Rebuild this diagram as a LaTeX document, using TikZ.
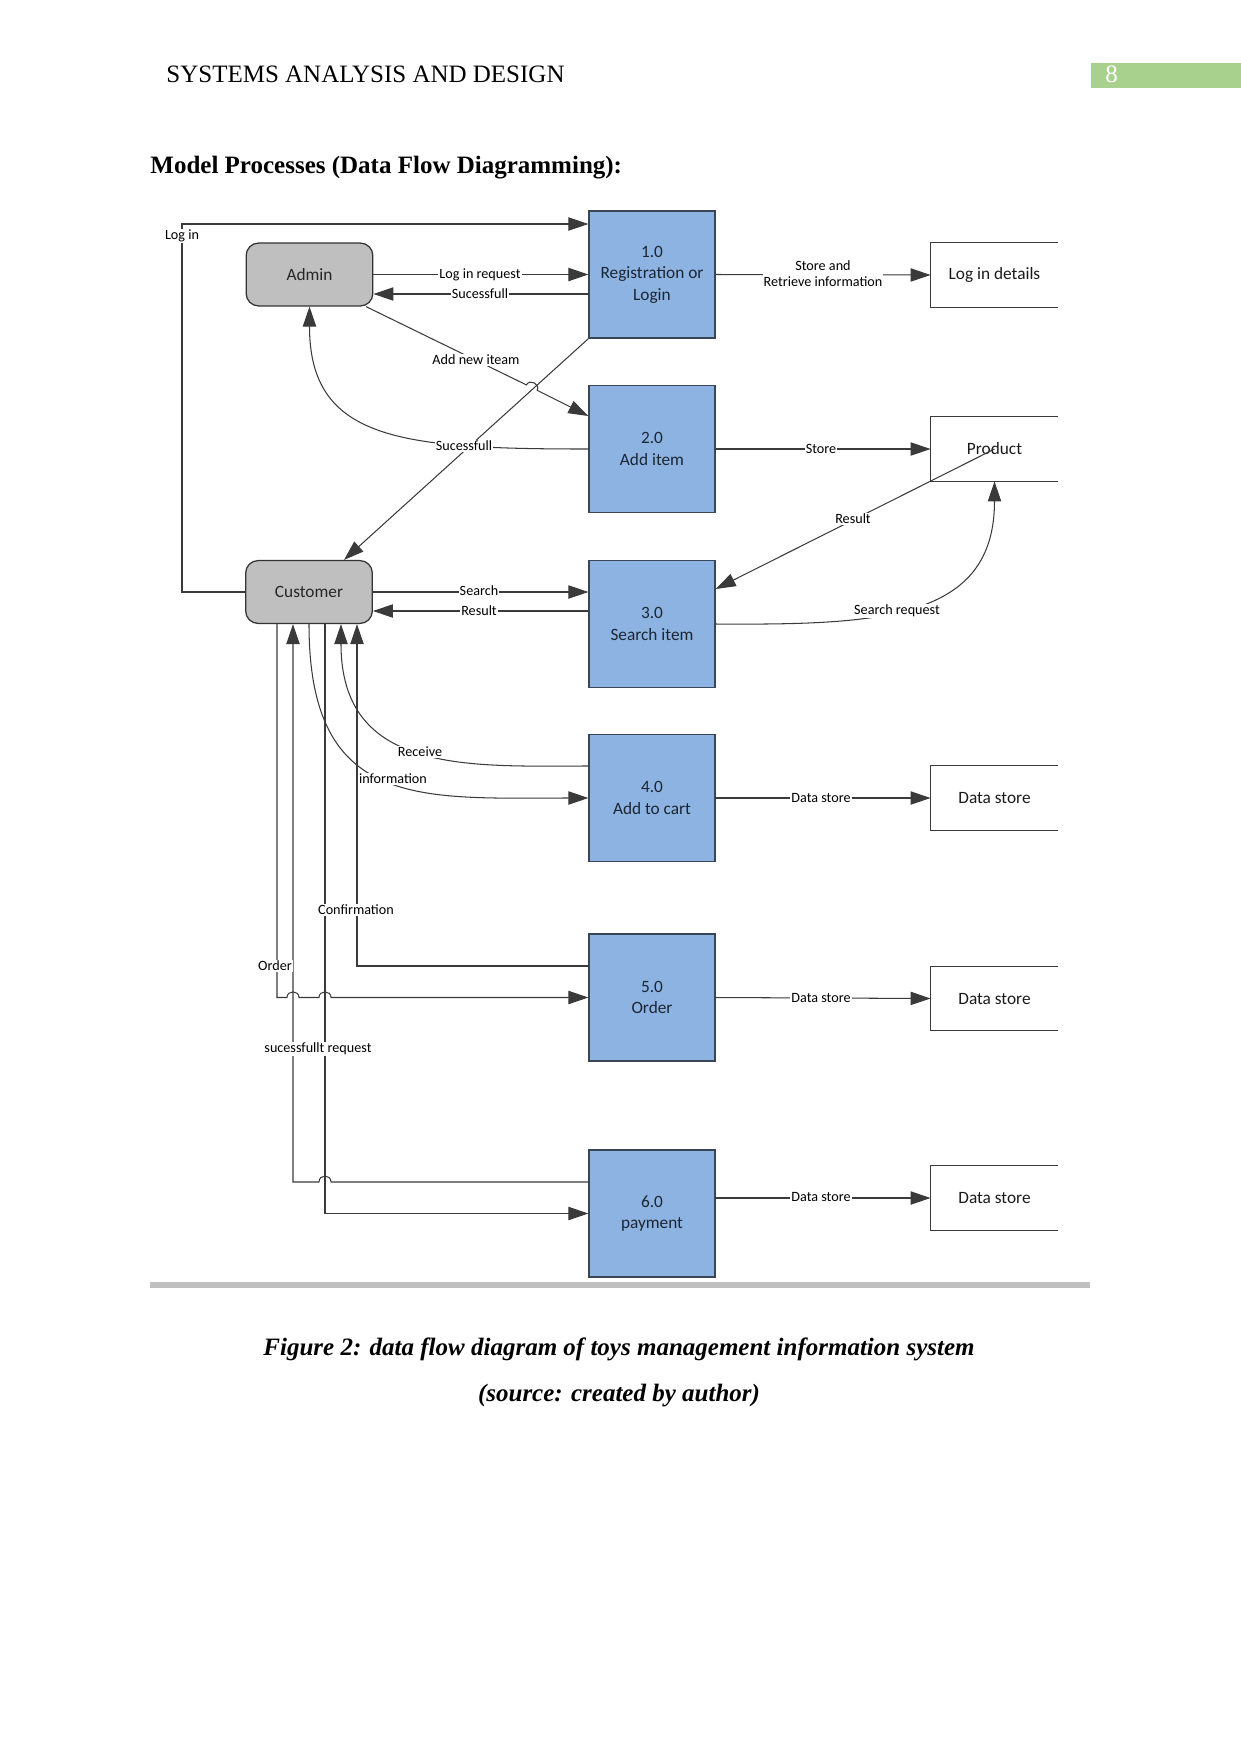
\documentclass[tikz,border=0pt]{standalone}
\usepackage{fontspec}
\setmainfont{Liberation Serif}
\newfontfamily\diagfont{Carlito}
\usetikzlibrary{arrows.meta}
\definecolor{procfill}{HTML}{8DB3E2}
\definecolor{procdraw}{HTML}{3A4656}
\definecolor{entfill}{HTML}{BFBFBF}
\definecolor{linec}{HTML}{3A3A3A}
\definecolor{pagegreen}{HTML}{A9D18E}
\definecolor{rulegray}{HTML}{C0C0C0}
\definecolor{proctext}{HTML}{1C2633}
\begin{document}
\begin{tikzpicture}[x=0.48pt,y=-0.48pt,
 proc/.style={rectangle, draw=procdraw, fill=procfill, line width=0.6pt, minimum width=60.5pt, minimum height=61pt, inner sep=0pt, align=center, text=proctext, font=\diagfont\fontsize{8.3}{10.3}\selectfont},
 ent/.style={rectangle, rounded corners=6pt, draw=black!80, fill=entfill, line width=0.6pt, minimum width=60.8pt, minimum height=30.2pt, inner sep=0pt, font=\diagfont\fontsize{8.3}{10}\selectfont, text=black!85},
 store/.style={rectangle, minimum width=61pt, minimum height=30.7pt, inner sep=0pt, font=\diagfont\fontsize{8.3}{10}\selectfont, text=black!90},
 storebox/.style={draw=linec, line width=0.5pt},
 flow/.style={draw=linec, line width=0.5pt, -{Triangle[length=9.6pt,width=6.4pt]}},
 plain/.style={draw=linec, line width=0.5pt},
 lbl/.style={fill=white, inner sep=0.5pt, font=\diagfont\fontsize{6.8}{7.7}\selectfont, align=center},
 pagetext/.style={inner sep=0pt, font=\fontsize{12}{14}\selectfont},
]
\useasboundingbox (0,0) rectangle (1241,1754);

% page furniture
\node[pagetext, anchor=base west] (hdr) at (166,82) {SYSTEMS ANALYSIS AND DESIGN};
\fill[pagegreen] (1091,63) rectangle (1241,88);
\node[pagetext, anchor=base west, text=white] (pnum) at (1105,82) {8};
\node[pagetext, anchor=base west, font=\bfseries\fontsize{12}{14}\selectfont] (ttl) at (150,173) {Model Processes (Data Flow Diagramming):};
\fill[rulegray] (150,1282) rectangle (1090,1288);
\node[pagetext, anchor=base, font=\bfseries\itshape\fontsize{12}{14}\selectfont] (cap1) at (619,1355) {Figure 2: data flow diagram of toys management information system};
\node[pagetext, anchor=base, font=\bfseries\itshape\fontsize{12}{14}\selectfont] (cap2) at (619,1401) {(source: created by author)};

% processes
\node[proc] (P1) at (652,274.5) {1.0\\Registration or\\Login};
\node[proc] (P2) at (652,449) {2.0\\Add item};
\node[proc] (P3) at (652,624) {3.0\\Search item};
\node[proc] (P4) at (652,798) {4.0\\Add to cart};
\node[proc] (P5) at (652,997.5) {5.0\\Order};
\node[proc] (P6) at (652,1213.5) {6.0\\payment};

% entities
\node[ent] (admin) at (309.5,274.5) {Admin};
\node[ent] (customer) at (309,592) {Customer};

% data stores
\node[store] (logind) at (994.5,275) {Log in details};
\node[store] (product) at (994.5,449) {Product};
\node[store] (ds4) at (994.5,798) {Data store};
\node[store] (ds5) at (994.5,998.5) {Data store};
\node[store] (ds6) at (994.5,1198) {Data store};
\foreach \s in {logind,product,ds4,ds5,ds6}{
  \draw[storebox] (\s.north east) -- (\s.north west) -- (\s.south west) -- (\s.south east);
}

% top flows
\draw[flow] (customer.west) -- (182,592) -- (182,224) -- (P1.west |- 0,224);
\draw[flow] (admin.east) -- (P1.west);
\draw[flow] (P1.west |- 0,294) -- (admin.east |- 0,294);
\draw[flow] (P1.east) -- (logind.west);
\draw[flow] (P1.south west) -- (customer.north -| 344,0);
\draw[flow] (admin.south east -| 366,0) -- (526.4,384.9) .. controls (529.6,378.6) and (540.4,384.0) .. (537.2,390.3) -- (P2.west |- 0,416);
\draw[flow] (P2.west) .. controls (400,449) and (309.5,440) .. (admin.south);
\draw[flow] (P2.east) -- (product.west);
\draw[flow] (product.center) -- (P3.east |- 0,589);
\draw[flow] (P3.east) .. controls (880,625) and (994.5,620) .. (product.south);
\draw[flow] (customer.east) -- (P3.west |- customer.east);
\draw[flow] (P3.west |- 0,611) -- (customer.east |- 0,611);

% customer lower flows
\draw[flow] (customer.south) .. controls (309,810) and (420,798) .. (P4.west);
\draw[flow] (P4.west |- 0,766) .. controls (470,766) and (341,775) .. (customer.south -| 341,0);
\draw[flow] (customer.south -| 277,0) -- (277,997.5) -- (287,997.5) .. controls (287,990) and (299,990) .. (299,997.5) -- (319,997.5) .. controls (319,990) and (331,990) .. (331,997.5) -- (P5.west);
\draw[flow] (P5.west |- 0,966) -- (357,966) -- (customer.south -| 357,0);
\draw[flow] (P6.west |- 0,1182) -- (331,1182) .. controls (331,1174) and (319,1174) .. (319,1182) -- (293,1182) -- (customer.south -| 293,0);
\draw[flow] (customer.south -| 325,0) -- (325,1213.5) -- (P6.west);

% to data stores
\draw[flow] (P4.east) -- (ds4.west);
\draw[flow] (P5.east) -- (ds5.west);
\draw[flow] (P6.east |- ds6.west) -- (ds6.west);

% labels
\node[lbl] (lLogin) at (182,236) {Log in};
\node[lbl] (lReq) at (480,275) {Log in request};
\node[lbl] (lSuc1) at (480,294) {Sucessfull};
\node[lbl] (lSR) at (823,274) {Store and\\Retrieve information};
\node[lbl] (lAdd) at (476,360) {Add new iteam};
\node[lbl] (lSuc2) at (464,446) {Sucessfull};
\node[lbl] (lStore) at (821,449) {Store};
\node[lbl] (lRes1) at (853,519) {Result};
\node[lbl] (lSreq) at (897,611) {Search request};
\node[lbl] (lSearch) at (479,591) {Search};
\node[lbl] (lRes2) at (479,611) {Result};
\node[lbl] (lRecv) at (420,752) {Receive};
\node[lbl] (lInfo) at (393,779) {information};
\node[lbl] (lConf) at (356,910) {Confirmation};
\node[lbl] (lOrder) at (275,966) {Order};
\node[lbl] (lSucReq) at (318,1049) {sucessfullt request};
\node[lbl] (lDS4) at (821,798) {Data store};
\node[lbl] (lDS5) at (821,998) {Data store};
\node[lbl] (lDS6) at (821,1197) {Data store};
\end{tikzpicture}
\end{document}
